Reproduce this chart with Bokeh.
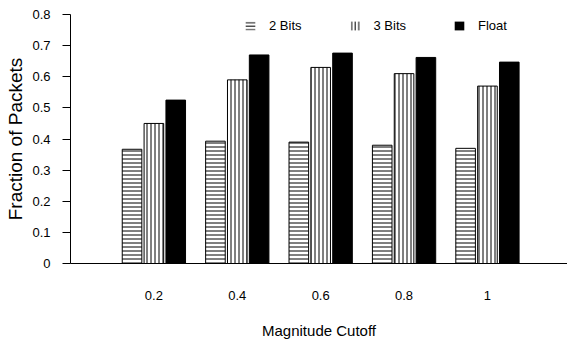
from bokeh.plotting import figure
from bokeh.models import ColumnDataSource, Range1d, FixedTicker, Legend, LegendItem
from bokeh.transform import dodge
from bokeh.embed import file_html
from bokeh.resources import INLINE

# ---- data ----
categories = ["0.2", "0.4", "0.6", "0.8", "1"]
bits2 = [0.367, 0.393, 0.390, 0.380, 0.370]
bits3 = [0.450, 0.590, 0.630, 0.610, 0.570]
float_vals = [0.525, 0.670, 0.676, 0.662, 0.647]
series_names = ["2 Bits", "3 Bits", "Float"]
y_ticks = [0, 0.1, 0.2, 0.3, 0.4, 0.5, 0.6, 0.7, 0.8]
y_tick_labels = ["0", "0.1", "0.2", "0.3", "0.4", "0.5", "0.6", "0.7", "0.8"]
x_title = "Magnitude Cutoff"
y_title = "Fraction of Packets"

FONT = "Liberation Sans"
pos = list(range(len(categories)))
src = ColumnDataSource(dict(x=pos, b2=bits2, b3=bits3, fl=float_vals))

p = figure(width=567, height=341, output_backend="svg", toolbar_location=None,
           x_range=Range1d(-1.0, 4.96), y_range=Range1d(0, 0.8),
           min_border_left=70, min_border_right=0, min_border_top=14, min_border_bottom=78)
p.outline_line_color = None
p.xgrid.visible = False
p.ygrid.visible = False

off = 0.262
w = 0.235
p.vbar(x=dodge("x", -off, range=p.x_range), top="b2", width=w, source=src,
       fill_color="white", line_color="black", line_width=1,
       hatch_pattern="horizontal_line", hatch_color="black", hatch_scale=4, hatch_weight=1)
p.vbar(x=dodge("x", 0, range=p.x_range), top="b3", width=w, source=src,
       fill_color="white", line_color="black", line_width=1,
       hatch_pattern="vertical_line", hatch_color="black", hatch_scale=4, hatch_weight=1)
p.vbar(x=dodge("x", off, range=p.x_range), top="fl", width=w, source=src,
       fill_color="black", line_color="black", line_width=1)

# legend-only renderers (no visible data)
nan = float("nan")
dummy = ColumnDataSource(dict(x=[nan], top=[nan]))
r1 = p.vbar(x="x", top="top", width=w, source=dummy, fill_color="white", line_color=None,
            hatch_pattern="horizontal_line", hatch_color="black", hatch_scale=3.5, hatch_weight=1)
r2 = p.vbar(x="x", top="top", width=w, source=dummy, fill_color="white", line_color=None,
            hatch_pattern="vertical_line", hatch_color="black", hatch_scale=3.5, hatch_weight=1)
r3 = p.vbar(x="x", top="top", width=w, source=dummy, fill_color="black", line_color=None)

legend = Legend(items=[LegendItem(label=series_names[0], renderers=[r1]),
                       LegendItem(label=series_names[1], renderers=[r2]),
                       LegendItem(label=series_names[2], renderers=[r3])],
                orientation="horizontal", location=(174, 230), padding=0, spacing=47,
                glyph_width=12, glyph_height=11, label_standoff=13, label_height=10,
                label_text_font=FONT, label_text_font_size="13px", label_text_color="black",
                border_line_color=None, background_fill_alpha=0, margin=0)
p.add_layout(legend)

# axes
p.xaxis.ticker = FixedTicker(ticks=pos)
p.xaxis.major_label_overrides = {i: c for i, c in zip(pos, categories)}
p.xaxis.major_tick_out = 0
p.xaxis.major_tick_in = 0
p.xaxis.minor_tick_out = 0
p.xaxis.minor_tick_in = 0
p.xaxis.major_label_standoff = 27
p.xaxis.axis_label = x_title
p.xaxis.axis_label_standoff = 19
p.xaxis.axis_label_text_font_style = "normal"

p.yaxis.ticker = FixedTicker(ticks=y_ticks)
p.yaxis.major_label_overrides = {t: l for t, l in zip(y_ticks, y_tick_labels)}
p.yaxis.major_tick_out = 8
p.yaxis.major_tick_in = 0
p.yaxis.minor_tick_out = 0
p.yaxis.minor_tick_in = 0
p.yaxis.major_label_standoff = 12
p.yaxis.axis_label = y_title
p.yaxis.axis_label_standoff = 3
p.yaxis.axis_label_text_font_style = "normal"

for ax in (p.xaxis[0], p.yaxis[0]):
    ax.axis_line_color = "black"
    ax.major_tick_line_color = "black"
    ax.major_label_text_font = FONT
    ax.major_label_text_font_size = "13px"
    ax.major_label_text_color = "black"
    ax.axis_label_text_font = FONT
    ax.axis_label_text_color = "black"
p.xaxis.axis_label_text_font_size = "15px"
p.yaxis.axis_label_text_font_size = "19px"

open("out.html", "w").write(file_html(p, INLINE))
